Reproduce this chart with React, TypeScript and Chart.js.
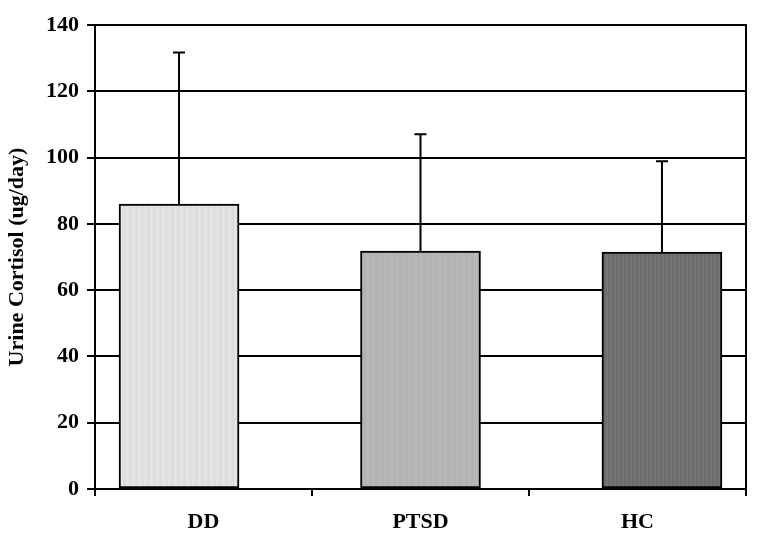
import React, { useEffect, useRef } from "react";
import { Chart, registerables } from "chart.js";

Chart.register(...registerables);

const categories = ["DD", "PTSD", "HC"];
const means = [86.0, 71.8, 71.5];
const sds = [45.7, 35.2, 27.4];
const yTicks = [0, 20, 40, 60, 80, 100, 120, 140];
const yTitle = "Urine Cortisol (ug/day)";

function stripe(a: string, b: string, w: number) {
  const c = document.createElement("canvas");
  c.width = w * 2;
  c.height = 4;
  const g = c.getContext("2d")!;
  g.fillStyle = a;
  g.fillRect(0, 0, w, 4);
  g.fillStyle = b;
  g.fillRect(w, 0, w, 4);
  return g.createPattern(c, "repeat")!;
}

const errorBars = {
  id: "errorBars",
  afterDatasetsDraw(chart: any) {
    const ctx = chart.ctx;
    const meta = chart.getDatasetMeta(0);
    const ys = chart.scales.y;
    ctx.save();
    ctx.strokeStyle = "#000";
    ctx.lineWidth = 2;
    meta.data.forEach((bar: any, i: number) => {
      const x = bar.x;
      const top = ys.getPixelForValue(means[i] + sds[i]);
      ctx.beginPath();
      ctx.moveTo(x, bar.y);
      ctx.lineTo(x, top);
      ctx.moveTo(x - 6, top);
      ctx.lineTo(x + 6, top);
      ctx.stroke();
    });
    const a = chart.chartArea;
    ctx.beginPath();
    ctx.moveTo(a.right, a.top - 1);
    ctx.lineTo(a.right, a.bottom + 7);
    ctx.stroke();
    ctx.restore();
  },
};

export default function App() {
  const ref = useRef<HTMLCanvasElement>(null);
  useEffect(() => {
    document.body.style.margin = "0";
    const fills = [
      stripe("#e4e4e4", "#dddddd", 3),
      stripe("#b7b7b7", "#b3b3b3", 3),
      stripe("#6c6c6c", "#767676", 2),
    ];
    const chart = new Chart(ref.current!, {
      type: "bar",
      data: {
        labels: categories,
        datasets: [
          {
            data: means.map((v, i) => ({ x: i, y: v })) as any,
            xAxisID: "xb",
            backgroundColor: fills as any,
            borderColor: "#000",
            borderWidth: 2,
            borderSkipped: false,
            barThickness: 120,
          },
        ],
      },
      options: {
        animation: false,
        responsive: false,
        plugins: { legend: { display: false }, tooltip: { enabled: false } },
        layout: { padding: { left: 4, right: 19, top: 25, bottom: 0 } },
        scales: {
          x: {
            type: "category",
            labels: categories,
            offset: true,
            grid: {
              offset: true,
              drawOnChartArea: false,
              drawTicks: true,
              tickLength: 7,
              color: "#000",
              lineWidth: 2,
            },
            border: { display: true, color: "#000", width: 2 },
            ticks: {
              color: "#000",
              padding: 13,
              font: { family: "Liberation Serif", weight: "bold", size: 22 },
            },
            afterFit: (s: any) => {
              s.height = 50;
            },
          },
          xb: {
            type: "linear",
            display: false,
            offset: false,
            min: -0.348,
            max: 2.348,
          },
          y: {
            min: 0,
            max: 140,
            afterBuildTicks: (s: any) => {
              s.ticks = yTicks.map((v) => ({ value: v }));
            },
            grid: {
              color: "#000",
              lineWidth: 2,
              tickLength: 8,
            },
            border: { display: true, color: "#000", width: 2 },
            ticks: {
              color: "#000",
              padding: 8,
              font: { family: "Liberation Serif", weight: "bold", size: 22 },
            },
            title: {
              display: true,
              text: yTitle,
              color: "#000",
              font: { family: "Liberation Serif", weight: "bold", size: 22 },
              padding: { top: 0, bottom: 4 },
            },
            afterFit: (s: any) => {
              s.width = 91;
            },
          },
        },
      },
      plugins: [errorBars],
    });
    return () => chart.destroy();
  }, []);
  return (
    <div style={{ width: 765, height: 539, background: "#fff" }}>
      <canvas ref={ref} width={765} height={539} style={{ display: "block" }} />
    </div>
  );
}
